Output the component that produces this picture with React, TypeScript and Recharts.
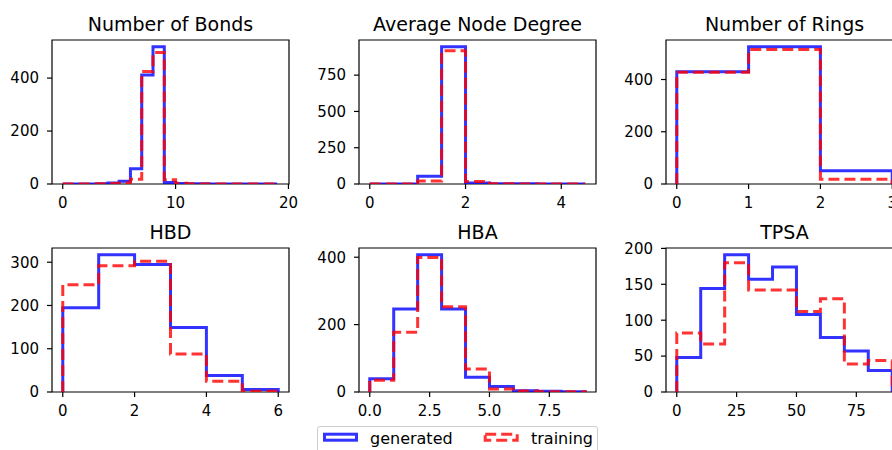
import React from 'react';
import { LineChart, Line, XAxis, YAxis, ReferenceArea } from 'recharts';

const FONT = '"DejaVu Sans", "Liberation Sans", sans-serif';

// ---------- data ----------
const bondEdges = [0, 1, 2, 3, 4, 5, 6, 7, 8, 9, 10, 11, 12, 13, 14, 15, 16, 17, 18, 19];
const bondGenerated = [0, 0, 0, 1, 4, 10, 58, 412, 518, 6, 2, 1, 1, 0, 0, 0, 0, 0, 0];
const bondTraining = [0, 0, 0, 1, 2, 4, 18, 425, 497, 16, 3, 1, 0, 0, 0, 0, 0, 0, 0];
const bondXTicks = [0, 10, 20];
const bondYTicks = [0, 200, 400];

const degreeEdges = [0, 0.5, 1, 1.5, 2, 2.5, 3, 3.5, 4, 4.5];
const degreeGenerated = [0, 0, 53, 945, 7, 2, 1, 0, 0];
const degreeTraining = [0, 0, 21, 918, 18, 1, 0, 0, 0];
const degreeXTicks = [0, 2, 4];
const degreeYTicks = [0, 250, 500, 750];

const ringEdges = [0, 1, 2, 3];
const ringGenerated = [430, 525, 51];
const ringTraining = [428, 515, 18];
const ringXTicks = [0, 1, 2, 3];
const ringYTicks = [0, 200, 400];

const hbdEdges = [0, 1, 2, 3, 4, 5, 6];
const hbdGenerated = [195, 317, 295, 149, 38, 6];
const hbdTraining = [248, 292, 302, 88, 25, 2];
const hbdXTicks = [0, 2, 4, 6];
const hbdYTicks = [0, 100, 200, 300];

const hbaEdges = [0, 1, 2, 3, 4, 5, 6, 7, 8, 9];
const hbaGenerated = [39, 246, 407, 246, 44, 16, 4, 2, 1];
const hbaTraining = [35, 177, 399, 253, 68, 9, 3, 1, 1];
const hbaXTicks = [0, 2.5, 5, 7.5];
const hbaXTickLabels = ['0.0', '2.5', '5.0', '7.5'];
const hbaYTicks = [0, 200, 400];

const tpsaEdges = [0, 10, 20, 30, 40, 50, 60, 70, 80, 90];
const tpsaGenerated = [48, 144, 191, 157, 174, 108, 76, 57, 30];
const tpsaTraining = [82, 67, 180, 142, 142, 112, 130, 39, 44];
const tpsaXTicks = [0, 25, 50, 75];
const tpsaYTicks = [0, 50, 100, 150, 200];

const seriesNames = ['generated', 'training'];

// ---------- layout ----------
const PW = 237;
const PH = 144;
const ML = 60;
const MT = 10;
const MR = 12;
const MB = 34;
const BLUE = '#0000ff';
const RED = '#ff0000';

type Pt = { x: number; y: number };
function outline(edges: number[], counts: number[]): Pt[] {
  const pts: Pt[] = [{ x: edges[0], y: 0 }];
  counts.forEach((c, i) => {
    pts.push({ x: edges[i], y: c });
    pts.push({ x: edges[i + 1], y: c });
  });
  pts.push({ x: edges[edges.length - 1], y: 0 });
  return pts;
}

type PanelProps = {
  title: string;
  edges: number[];
  gen: number[];
  train: number[];
  xDomain: [number, number];
  xTicks: number[];
  xLabels?: string[];
  yTicks: number[];
  left: number;
  top: number;
};

function Panel({ title, edges, gen, train, xDomain, xTicks, xLabels, yTicks, left, top }: PanelProps) {
  const ymax = Math.max(...gen, ...train) * 1.05;
  const W = PW + ML + MR;
  const H = PH + MT + MB;
  const tickStyle = { fill: '#000', fontSize: 15, fontFamily: FONT };
  const fmtX = (v: number) => {
    const i = xTicks.indexOf(v);
    return xLabels && i >= 0 ? xLabels[i] : String(v);
  };
  return (
    <>
      <div
        style={{
          position: 'absolute',
          left,
          top: top - 25,
          width: PW,
          textAlign: 'center',
          fontSize: 19,
          lineHeight: '19px',
          fontFamily: FONT,
          color: '#000',
          whiteSpace: 'nowrap',
        }}
      >
        {title}
      </div>
      <div style={{ position: 'absolute', left: left - ML, top: top - MT }}>
        <LineChart width={W} height={H} margin={{ top: MT, right: MR, bottom: 0, left: 0 }}>
          <XAxis
            type="number"
            dataKey="x"
            domain={xDomain}
            allowDataOverflow
            ticks={xTicks}
            interval={0}
            tickFormatter={fmtX}
            axisLine={false}
            tickLine={{ stroke: '#000', strokeWidth: 1.2 }}
            tickSize={5}
            tickMargin={8}
            height={MB}
            tick={tickStyle}
          />
          <YAxis
            type="number"
            domain={[0, ymax]}
            allowDataOverflow
            ticks={yTicks}
            interval={0}
            axisLine={false}
            tickLine={{ stroke: '#000', strokeWidth: 1.2 }}
            tickSize={5}
            tickMargin={8}
            width={ML}
            tick={tickStyle}
          />
          <Line
            data={outline(edges, gen)}
            dataKey="y"
            type="linear"
            stroke={BLUE}
            strokeOpacity={0.8}
            strokeWidth={3}
            strokeLinejoin="miter"
            dot={false}
            activeDot={false}
            isAnimationActive={false}
          />
          <Line
            data={outline(edges, train)}
            dataKey="y"
            type="linear"
            stroke={RED}
            strokeOpacity={0.8}
            strokeWidth={3}
            strokeDasharray="11 5"
            strokeLinejoin="miter"
            dot={false}
            activeDot={false}
            isAnimationActive={false}
          />
          <ReferenceArea
            x1={xDomain[0]}
            x2={xDomain[1]}
            y1={0}
            y2={ymax}
            fill="none"
            fillOpacity={0}
            stroke="#000"
            strokeWidth={1.2}
            ifOverflow="visible"
          />
        </LineChart>
      </div>
    </>
  );
}

const COLS = [52, 359, 666];
const ROWS = [40, 248];

export default function App() {
  return (
    <div
      style={{
        position: 'absolute',
        left: 0,
        top: 0,
        width: 892,
        height: 450,
        overflow: 'hidden',
        background: '#fff',
        fontFamily: FONT,
      }}
    >
      <Panel title="Number of Bonds" edges={bondEdges} gen={bondGenerated} train={bondTraining}
        xDomain={[-0.95, 20.05]} xTicks={bondXTicks} yTicks={bondYTicks} left={COLS[0]} top={ROWS[0]} />
      <Panel title="Average Node Degree" edges={degreeEdges} gen={degreeGenerated} train={degreeTraining}
        xDomain={[-0.225, 4.725]} xTicks={degreeXTicks} yTicks={degreeYTicks} left={COLS[1]} top={ROWS[0]} />
      <Panel title="Number of Rings" edges={ringEdges} gen={ringGenerated} train={ringTraining}
        xDomain={[-0.15, 3.15]} xTicks={ringXTicks} yTicks={ringYTicks} left={COLS[2]} top={ROWS[0]} />
      <Panel title="HBD" edges={hbdEdges} gen={hbdGenerated} train={hbdTraining}
        xDomain={[-0.3, 6.3]} xTicks={hbdXTicks} yTicks={hbdYTicks} left={COLS[0]} top={ROWS[1]} />
      <Panel title="HBA" edges={hbaEdges} gen={hbaGenerated} train={hbaTraining}
        xDomain={[-0.45, 9.45]} xTicks={hbaXTicks} xLabels={hbaXTickLabels} yTicks={hbaYTicks} left={COLS[1]} top={ROWS[1]} />
      <Panel title="TPSA" edges={tpsaEdges} gen={tpsaGenerated} train={tpsaTraining}
        xDomain={[-4.5, 94.5]} xTicks={tpsaXTicks} yTicks={tpsaYTicks} left={COLS[2]} top={ROWS[1]} />

      {/* legend */}
      <div
        style={{
          position: 'absolute',
          left: 317,
          top: 426,
          width: 281,
          height: 34,
          border: '1px solid #cccccc',
          borderRadius: 3,
          background: 'rgba(255,255,255,0.8)',
          boxSizing: 'border-box',
        }}
      />
      <svg style={{ position: 'absolute', left: 0, top: 0 }} width={892} height={450}>
        <rect x={324.5} y={434.2} width={32} height={6} fill="none" stroke={BLUE} strokeOpacity={0.8} strokeWidth={3} />
        <rect x={485.2} y={434.2} width={32} height={6} fill="none" stroke={RED} strokeOpacity={0.8} strokeWidth={3} strokeDasharray="11 5" />
      </svg>
      <span style={{ position: 'absolute', left: 370, top: 430.5, fontSize: 16, lineHeight: '16px', color: '#000', whiteSpace: 'nowrap' }}>
        {seriesNames[0]}
      </span>
      <span style={{ position: 'absolute', left: 531, top: 430.5, fontSize: 16, lineHeight: '16px', color: '#000', whiteSpace: 'nowrap' }}>
        {seriesNames[1]}
      </span>
    </div>
  );
}
